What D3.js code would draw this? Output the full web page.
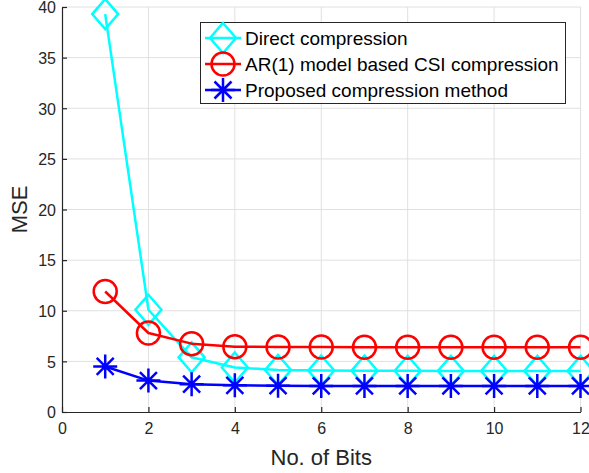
<!DOCTYPE html>
<html>
<head>
<meta charset="utf-8">
<script src="https://cdn.jsdelivr.net/npm/d3@7"></script>
<style>
  html, body { margin: 0; padding: 0; background: #fff; }
  svg { display: block; font-family: "Liberation Sans", Arial, sans-serif; }
</style>
</head>
<body>
<svg width="589" height="473"></svg>
<script>
// values
const bits = [1, 2, 3, 4, 5, 6, 7, 8, 9, 10, 11, 12];
const direct = [39.3, 10.1, 5.4, 4.4, 4.15, 4.1, 4.08, 4.07, 4.06, 4.06, 4.06, 4.06];
const ar1 = [11.9, 7.8, 6.75, 6.45, 6.42, 6.41, 6.4, 6.4, 6.4, 6.4, 6.4, 6.4];
const proposed = [4.5, 3.1, 2.75, 2.63, 2.6, 2.58, 2.57, 2.57, 2.57, 2.57, 2.57, 2.57];
const xTicks = [0, 2, 4, 6, 8, 10, 12];
const yTicks = [0, 5, 10, 15, 20, 25, 30, 35, 40];
const seriesNames = ["Direct compression", "AR(1) model based CSI compression", "Proposed compression method"];

const svg = d3.select("svg");
const margin = { left: 62, right: 8, top: 7, bottom: 61 };
const W = 589, H = 473;
const axisColor = "#262626";

const x = d3.scaleLinear().domain([0, 12]).range([margin.left, W - margin.right - 0.5]);
const y = d3.scaleLinear().domain([0, 40]).range([H - margin.bottom, margin.top]);

// --- grid ---
const grid = svg.append("g").attr("stroke", "#e0e0e0").attr("stroke-width", 1);
grid.selectAll("line.gx").data(xTicks.slice(1)).join("line")
    .attr("x1", d => x(d)).attr("x2", d => x(d))
    .attr("y1", y(0)).attr("y2", y(40));
grid.selectAll("line.gy").data(yTicks.slice(1)).join("line")
    .attr("x1", x(0)).attr("x2", x(12))
    .attr("y1", d => y(d)).attr("y2", d => y(d));

// --- axes (inward ticks, box off) ---
const xAxis = d3.axisBottom(x).tickValues(xTicks).tickSize(-5).tickPadding(11).tickSizeOuter(0);
const yAxis = d3.axisLeft(y).tickValues(yTicks).tickSize(-5).tickPadding(6).tickSizeOuter(0);

const gx = svg.append("g").attr("transform", `translate(0,${y(0)})`).call(xAxis);
const gy = svg.append("g").attr("transform", `translate(${x(0)},0)`).call(yAxis);
[gx, gy].forEach(g => {
    g.select(".domain").attr("stroke", axisColor).attr("stroke-width", 1.2);
    g.selectAll(".tick line").attr("stroke", axisColor).attr("stroke-width", 1.2);
    g.selectAll(".tick text").attr("fill", axisColor).attr("font-size", 16)
        .attr("font-family", "Liberation Sans, Arial, sans-serif");
});
gx.selectAll(".tick text").attr("dy", "0.71em");
gy.selectAll(".tick text").attr("dy", "0.36em");

svg.append("text")
    .attr("x", (x(0) + x(12)) / 2).attr("y", 465)
    .attr("text-anchor", "middle").attr("fill", axisColor)
    .attr("font-size", 22).text("No. of Bits");
svg.append("text")
    .attr("transform", `translate(27,${y(20)}) rotate(-90)`)
    .attr("text-anchor", "middle").attr("fill", axisColor)
    .attr("font-size", 22).text("MSE");

// --- markers ---
function diamond(g, cx, cy, color) {
    g.append("path")
        .attr("d", `M${cx},${cy - 15}L${cx + 13},${cy}L${cx},${cy + 15}L${cx - 13},${cy}Z`)
        .attr("fill", "none").attr("stroke", color).attr("stroke-width", 2.5);
}
function circle(g, cx, cy, color) {
    g.append("circle").attr("cx", cx).attr("cy", cy).attr("r", 11.5)
        .attr("fill", "none").attr("stroke", color).attr("stroke-width", 2.5);
}
function asterisk(g, cx, cy, color) {
    const r = 12, d = 8.5;
    g.append("path")
        .attr("d", `M${cx - r},${cy}L${cx + r},${cy}M${cx},${cy - r}L${cx},${cy + r}` +
            `M${cx - d},${cy - d}L${cx + d},${cy + d}M${cx - d},${cy + d}L${cx + d},${cy - d}`)
        .attr("fill", "none").attr("stroke", color).attr("stroke-width", 2.5);
}

const series = [
    { name: seriesNames[0], values: direct, color: "#00ffff", marker: diamond },
    { name: seriesNames[1], values: ar1, color: "#ff0000", marker: circle },
    { name: seriesNames[2], values: proposed, color: "#0000ff", marker: asterisk }
];

const line = d3.line().x(d => x(d[0])).y(d => y(d[1]));

series.forEach(s => {
    const pts = bits.map((b, i) => [b, s.values[i]]);
    const g = svg.append("g");
    g.append("path").datum(pts).attr("d", line)
        .attr("fill", "none").attr("stroke", s.color).attr("stroke-width", 2.5)
        .attr("stroke-linejoin", "round");
    pts.forEach(p => s.marker(g, x(p[0]), y(p[1]), s.color));
});

// --- legend ---
const lg = svg.append("g");
lg.append("rect").attr("x", 200.5).attr("y", 22.5).attr("width", 365).attr("height", 81)
    .attr("fill", "#fff").attr("stroke", axisColor).attr("stroke-width", 1);
series.forEach((s, i) => {
    const cy = 38 + i * 26;
    lg.append("line").attr("x1", 205).attr("x2", 241).attr("y1", cy).attr("y2", cy)
        .attr("stroke", s.color).attr("stroke-width", 2.5);
    s.marker(lg, 223, cy, s.color);
    lg.append("text").attr("x", 245).attr("y", cy).attr("dy", "0.35em")
        .attr("font-size", 19).attr("fill", "#000").text(s.name);
});
</script>
</body>
</html>
